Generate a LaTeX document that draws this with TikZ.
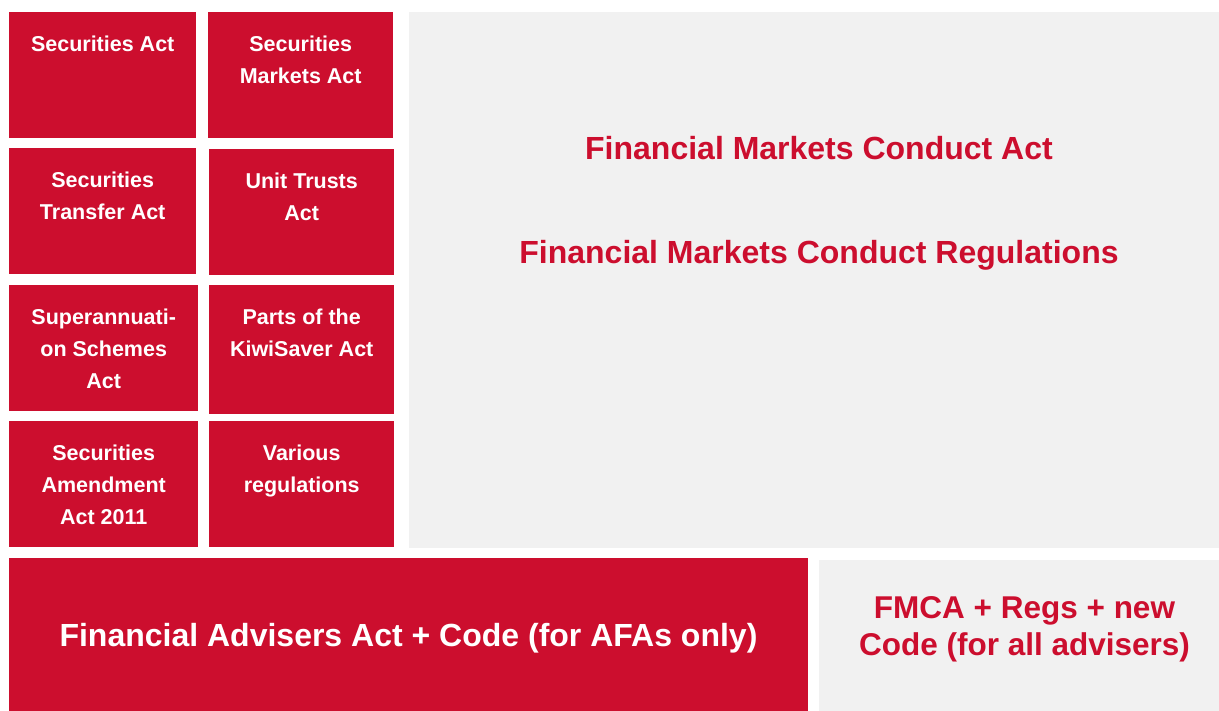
\documentclass[tikz,border=0pt]{standalone}
\usepackage{fontspec}
\setmainfont{Liberation Sans}
\usepackage{xcolor}
\usepackage{tikz}
\usetikzlibrary{positioning}
\definecolor{actred}{RGB}{204,14,46}
\definecolor{actgray}{RGB}{241,241,241}
\tikzset{
  actbox/.style={fill=actred,draw=none,anchor=north west,inner sep=0},
  graybox/.style={fill=actgray,draw=none,anchor=north west,inner sep=0},
  acttext/.style={text=white,align=center,inner sep=0,
    font=\fontsize{21.5}{32}\selectfont\bfseries},
  bigtext/.style={text=actred,inner sep=0,anchor=base,
    font=\fontsize{32}{38}\selectfont\bfseries}
}
\newcommand{\drawAct}[6]{% top left: x,y; size: w,h
  \node[actbox,minimum width=#3,minimum height=#4] (#5) at (#1,#2) {};
  \node[acttext,below=17pt of #5.north] (#5txt) {\strut#6};
}

\begin{document}
\begin{tikzpicture}[x=1pt,y=-1pt]
\useasboundingbox (0,0) rectangle (1219,711);

% Old acts
\drawAct{9}{12}{187}{126}{secact}{Securities Act}
\drawAct{208}{12}{185}{126}{smact}{Securities\\Markets Act}
\drawAct{9}{148}{187}{126}{stact}{Securities\\Transfer Act}
\drawAct{209}{149}{185}{126}{utact}{Unit Trusts\\Act}
\drawAct{9}{285}{189}{126}{ssact}{Superannuati-\\on Schemes\\Act}
\drawAct{209}{285}{185}{129}{ksact}{Parts of the\\KiwiSaver Act}
\drawAct{9}{421}{189}{126}{saact}{Securities\\Amendment\\Act 2011}
\drawAct{209}{421}{185}{126}{varreg}{Various\\regulations}

% FMC Act
\node[graybox,minimum width=810,minimum height=536] (fmc) at (409,12) {};
\node[bigtext] (fmcact) at (819,160) {Financial Markets Conduct Act};
\node[bigtext] (fmcreg) at (819,263.3) {Financial Markets Conduct Regulations};

% Advisers
\node[actbox,minimum width=799,minimum height=153] (faa) at (9,558) {};
\node[bigtext,text=white] (faatxt) at (408.5,646.7)
  {Financial Advisers Act + Code (for AFAs only)};
\node[graybox,minimum width=400,minimum height=151] (newcode) at (819,560) {};
\node[bigtext,anchor=north,align=center,
  font=\fontsize{31.5}{37.5}\selectfont\bfseries] (newcodetxt) at (1024.5,592)
  {\strut FMCA + Regs + new\\Code (for all advisers)};
\end{tikzpicture}
\end{document}
